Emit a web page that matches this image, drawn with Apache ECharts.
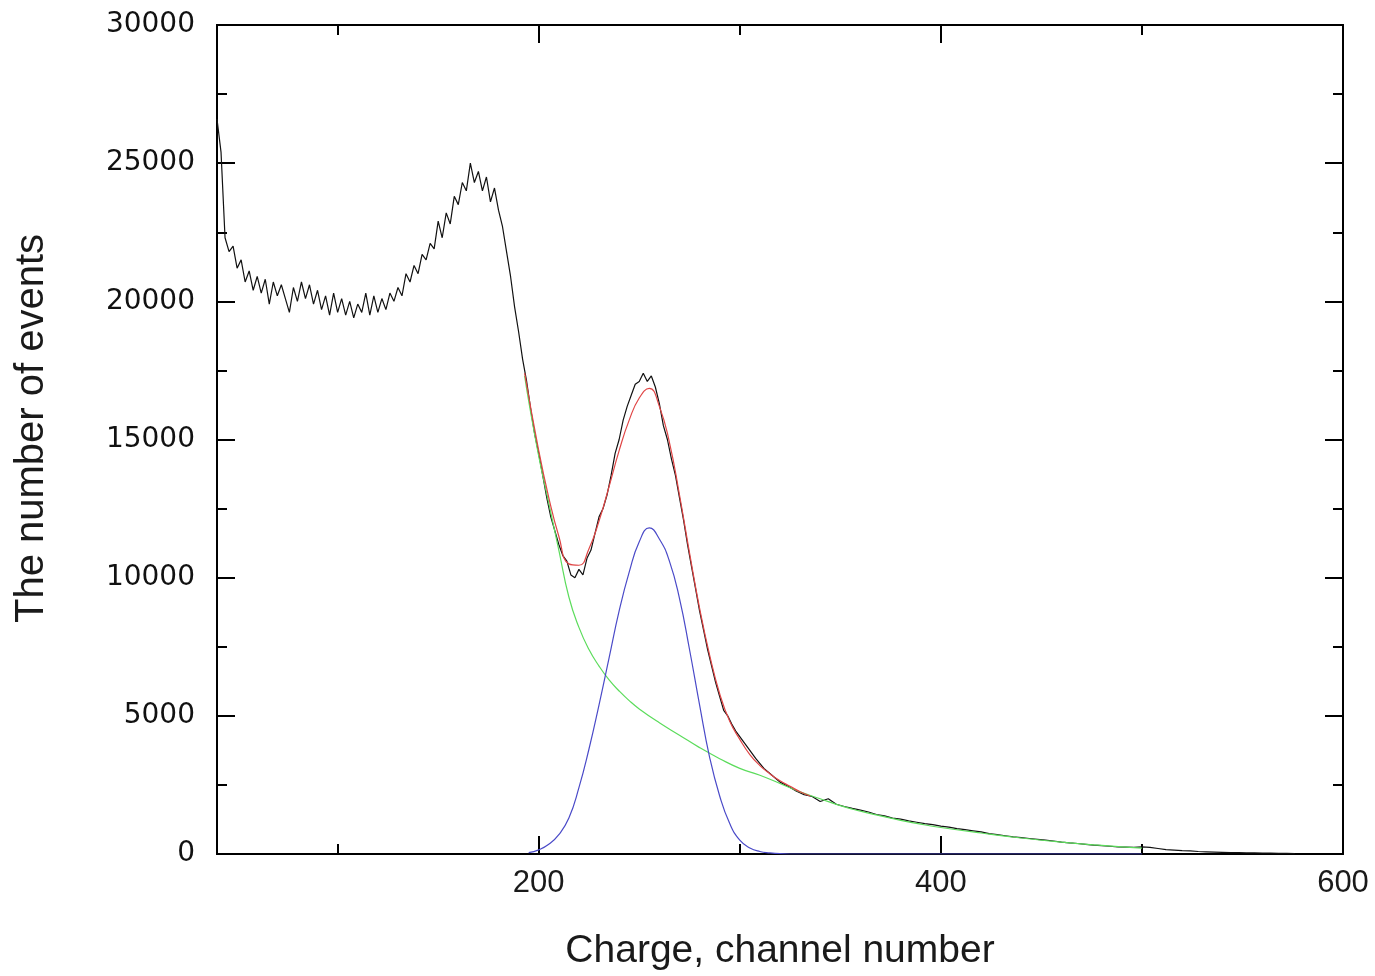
<!DOCTYPE html>
<html>
<head>
<meta charset="utf-8">
<title>Charge spectrum</title>
<script src="https://cdn.jsdelivr.net/npm/echarts@6/dist/echarts.min.js"></script>
<style>
  html, body { margin: 0; padding: 0; background: #fff; }
  #chart { width: 1375px; height: 976px; }
</style>
</head>
<body>
<div id="chart"></div>
<script>
// measured spectrum, channels 40..300 step 2
var dataStartA = 40, dataStepA = 2;
var dataCountsA = [
  26600, 25400, 22300, 21800, 22000, 21200, 21500, 20700, 21100, 20400,
  20900, 20300, 20800, 19900, 20700, 20200, 20600, 20100, 19600, 20500,
  20000, 20700, 20100, 20600, 19900, 20400, 19700, 20200, 19500, 20300,
  19600, 20100, 19500, 20000, 19400, 19900, 19600, 20300, 19500, 20200,
  19600, 20100, 19700, 20300, 20000, 20500, 20200, 21000, 20700, 21300,
  21000, 21700, 21500, 22100, 21900, 22900, 22300, 23200, 22800, 23800,
  23500, 24300, 24000, 25000, 24300, 24700, 24000, 24500, 23600, 24100,
  23300, 22700, 21800, 20900, 19800, 18900, 17900, 17100, 16100, 15200,
  14500, 13700, 12900, 12200, 11700, 11200, 10800, 10600, 10100, 10000,
  10300, 10100, 10700, 11000, 11600, 12200, 12500, 13000, 13700, 14500,
  15000, 15700, 16200, 16600, 17000, 17100, 17400, 17100, 17300, 16900,
  16300, 15500, 15000, 14300, 13700, 12900, 12100, 11200, 10400, 9600,
  8800, 8100, 7400, 6800, 6200, 5700, 5200, 5000, 4700, 4450,
  4250
];
// measured spectrum tail, channels 304..576 step 4
var dataStartB = 304, dataStepB = 4;
var dataCountsB = [
  3850, 3450, 3100, 2850, 2600, 2450, 2280, 2150, 2080, 1900,
  2000, 1800, 1720, 1650, 1590, 1520, 1430, 1380, 1300, 1260,
  1200, 1150, 1100, 1060, 1010, 970, 920, 880, 840, 800,
  740, 700, 660, 620, 590, 560, 530, 500, 470, 430,
  400, 380, 350, 320, 300, 280, 260, 250, 240, 260,
  240, 200, 160, 140, 120, 110, 90, 80, 70, 60,
  50, 50, 40, 40, 30, 30, 20, 20, 10
];

// background fit (green)
var bgChannels = [193, 195, 200, 205, 210, 215, 220, 225, 230, 235, 240, 245, 250, 260, 270, 280, 290, 300, 310, 320, 330, 340, 350, 360, 370, 380, 390, 400, 420, 440, 460, 480, 500];
var bgCounts   = [17300, 16400, 14400, 12700, 11000, 9300, 8200, 7400, 6800, 6300, 5900, 5550, 5250, 4750, 4300, 3850, 3450, 3100, 2850, 2550, 2250, 2000, 1750, 1550, 1380, 1220, 1080, 960, 760, 580, 430, 310, 210];

// peak fit (blue)
var peakChannels = [195, 200, 205, 210, 215, 220, 225, 230, 235, 240, 245, 250, 255, 260, 265, 270, 275, 280, 285, 290, 295, 300, 305, 310, 315, 320, 325, 400, 500];
var peakCounts   = [50, 150, 350, 700, 1300, 2400, 3800, 5400, 7100, 8800, 10200, 11300, 11800, 11400, 10600, 9250, 7400, 5400, 3500, 2100, 1100, 500, 220, 90, 40, 10, 0, 0, 0];

// total fit (red)
var sumChannels = [193, 200, 205, 210, 215, 220, 225, 230, 235, 240, 245, 250, 255, 260, 265, 270, 275, 280, 285, 290, 295, 300, 305, 310, 315, 320, 325, 330, 335];
var sumCounts   = [17400, 14600, 12900, 11500, 10500, 10450, 11050, 12050, 13300, 14600, 15700, 16500, 16850, 16200, 14900, 13000, 10900, 8900, 7200, 5800, 4800, 4150, 3600, 3200, 2900, 2650, 2450, 2250, 2100];

var majorX = [200, 400, 600];
var minorX = [100, 300, 500];

function pairs(xs, ys) {
  return ys.map(function (v, i) { return [xs[i], v]; });
}
function stepped(start, step, ys) {
  return ys.map(function (v, i) { return [start + i * step, v]; });
}

var measured = stepped(dataStartA, dataStepA, dataCountsA).concat(stepped(dataStartB, dataStepB, dataCountsB));

var myChart = echarts.init(document.getElementById('chart'));

var tickLine = { color: '#000', width: 2 };

function xAx(pos, ticks, len, withLabel) {
  return {
    type: 'value',
    position: pos,
    min: 40,
    max: 600,
    axisLine: { show: true, lineStyle: { color: '#000', width: 2 } },
    axisTick: { show: true, inside: true, length: len, customValues: ticks, lineStyle: tickLine },
    axisLabel: withLabel ? {
      show: true, customValues: ticks, margin: 14,
      color: '#1a1a1a', fontSize: 31, fontFamily: 'Liberation Sans'
    } : { show: false },
    splitLine: { show: false },
    name: withLabel ? 'Charge, channel number' : '',
    nameLocation: 'middle',
    nameGap: 78,
    nameTextStyle: { color: '#1a1a1a', fontSize: 39, fontFamily: 'Liberation Sans' }
  };
}

function yAx(pos, withLabel) {
  return {
    type: 'value',
    position: pos,
    min: 0,
    max: 30000,
    interval: 5000,
    axisLine: { show: true, lineStyle: { color: '#000', width: 2 } },
    axisTick: { show: true, inside: true, length: 18, lineStyle: tickLine },
    minorTick: { show: true, splitNumber: 2, length: 10, lineStyle: tickLine },
    axisLabel: withLabel ? {
      show: true, margin: 22, color: '#111', fontSize: 28, fontFamily: 'DejaVu Sans',
      formatter: function (v) { return String(v); }
    } : { show: false },
    splitLine: { show: false },
    name: withLabel ? 'The number of events' : '',
    nameLocation: 'middle',
    nameGap: 165,
    nameTextStyle: { color: '#1a1a1a', fontSize: 40, fontFamily: 'Liberation Sans', padding: [0, 0, 0, 22] }
  };
}

var option = {
  backgroundColor: '#fff',
  animation: false,
  grid: { left: 217, right: 32, top: 25, bottom: 120, containLabel: false },
  xAxis: [
    xAx('bottom', majorX, 18, true),
    xAx('bottom', minorX, 10, false),
    xAx('top', majorX, 18, false),
    xAx('top', minorX, 10, false)
  ],
  yAxis: [
    yAx('left', true),
    yAx('right', false)
  ],
  series: [
    {
      name: 'data', type: 'line', showSymbol: false, symbol: 'none',
      data: measured,
      lineStyle: { color: '#111', width: 1.2 }
    },
    {
      name: 'background', type: 'line', showSymbol: false, symbol: 'none', smooth: true,
      data: pairs(bgChannels, bgCounts),
      lineStyle: { color: '#5cdc5c', width: 1.2 }
    },
    {
      name: 'peak', type: 'line', showSymbol: false, symbol: 'none', smooth: true,
      data: pairs(peakChannels, peakCounts),
      lineStyle: { color: '#4a4ac8', width: 1.2 }
    },
    {
      name: 'fit', type: 'line', showSymbol: false, symbol: 'none', smooth: true,
      data: pairs(sumChannels, sumCounts),
      lineStyle: { color: '#e04646', width: 1.2 }
    }
  ]
};

myChart.setOption(option);
window.onresize = function () { myChart.resize(); };
</script>
</body>
</html>
